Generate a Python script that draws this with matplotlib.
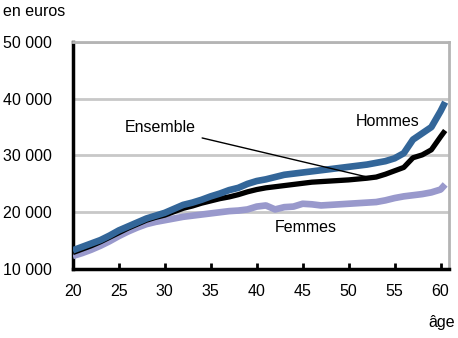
import matplotlib
matplotlib.use('Agg')
import matplotlib.pyplot as plt

plt.rcParams['font.family'] = ['Liberation Sans', 'DejaVu Sans']
plt.rcParams['font.size'] = 11.5

# Salaire annuel moyen par age
ages = [20, 21, 22, 23, 24, 25, 26, 27, 28, 29, 30, 31, 32, 33, 34, 35, 36, 37, 38, 39,
        40, 41, 42, 43, 44, 45, 46, 47, 48, 49, 50, 51, 52, 53, 54, 55, 56, 57, 58, 59,
        60, 60.5]
hommes = [13300, 13900, 14500, 15100, 15900, 16800, 17500, 18200, 18900, 19400,
          19900, 20600, 21300, 21700, 22200, 22800, 23300, 23900, 24300, 25000,
          25500, 25800, 26200, 26600, 26800, 27000, 27200, 27400, 27600, 27800,
          28000, 28200, 28400, 28700, 29000, 29500, 30400, 32800, 33900, 35000,
          37800, 39400]
ensemble = [12900, 13500, 14100, 14800, 15600, 16400, 17200, 17900, 18600, 19100,
            19500, 20100, 20700, 21100, 21600, 22000, 22400, 22700, 23100, 23600,
            24000, 24300, 24500, 24700, 24900, 25100, 25300, 25400, 25500, 25600,
            25700, 25850, 26000, 26200, 26700, 27300, 27900, 29600, 30100, 31000,
            33300, 34400]
femmes = [12300, 12800, 13400, 14100, 14900, 15800, 16600, 17300, 17900, 18300,
          18600, 18900, 19200, 19400, 19600, 19800, 20000, 20200, 20300, 20500,
          21000, 21200, 20500, 20900, 21000, 21500, 21400, 21200, 21300, 21400,
          21500, 21600, 21700, 21800, 22100, 22500, 22800, 23000, 23200, 23500,
          24000, 24900]

yticks = [10000, 20000, 30000, 40000, 50000]
ylabels = ['10 000', '20 000', '30 000', '40 000', '50 000']
xticks = [20, 25, 30, 35, 40, 45, 50, 55, 60]

fig = plt.figure(figsize=(4.58, 3.38), dpi=100)
ax = fig.add_axes([0.159, 0.204, 0.821, 0.672])

ax.plot(ages, femmes, color='#9999cc', lw=4.8, solid_capstyle='butt', zorder=3)
ax.plot(ages, ensemble, color='black', lw=3.8, solid_capstyle='butt', zorder=4)
ax.plot(ages, hommes, color='#336699', lw=4.8, solid_capstyle='butt', zorder=5)

ax.set_xlim(20, 60.9)
ax.set_ylim(10000, 50000)
ax.set_yticks(yticks)
ax.set_yticklabels(ylabels)
ax.set_xticks(xticks)
ax.grid(axis='y', color='#c8c8c8', lw=2)
ax.set_axisbelow(True)

for side in ['left', 'bottom']:
    ax.spines[side].set_color('black')
    ax.spines[side].set_linewidth(2.5)
for side in ['top', 'right']:
    ax.spines[side].set_color('#b4b4b4')
    ax.spines[side].set_linewidth(2)

ax.tick_params(axis='x', direction='in', length=4, width=2, pad=11)
ax.tick_params(axis='y', length=0, pad=15)

ax.annotate('Ensemble', xy=(52.3, 26100), xytext=(25.6, 34850), ha='left', va='center',
            arrowprops=dict(arrowstyle='-', color='black', lw=1, shrinkA=3, shrinkB=0),
            zorder=6)
ax.text(54.2, 35900, 'Hommes', ha='center', va='center')
ax.text(45.3, 17230, 'Femmes', ha='center', va='center')

fig.text(3 / 458, 1 - 12 / 338, 'en euros', ha='left', va='center')
fig.text(455 / 458, 1 - 322 / 338, 'âge', ha='right', va='center')

plt.savefig('out.png', dpi=100)
